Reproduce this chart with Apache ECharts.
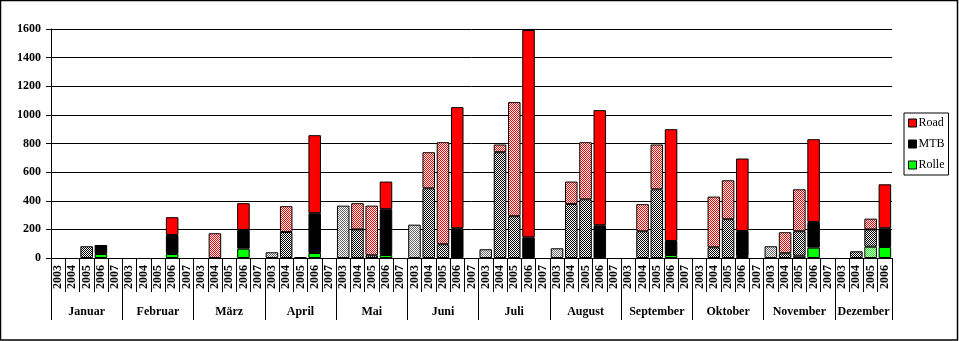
<!DOCTYPE html>
<html>
<head>
<meta charset="utf-8">
<script src="https://cdn.jsdelivr.net/npm/echarts@6/dist/echarts.min.js"></script>
<style>
  html, body { margin: 0; padding: 0; background: #fff; }
  #chart { width: 959px; height: 341px; }
</style>
</head>
<body>
<div id="chart"></div>
<script>
// Monthly training totals per year, stacked Rolle / MTB / Road
const months = ['Januar', 'Februar', 'März', 'April', 'Mai', 'Juni', 'Juli',
                'August', 'September', 'Oktober', 'November', 'Dezember'];
const yearLabels = ['2003', '2004', '2005', '2006', '2007'];
const yearsPerMonth = [5, 5, 5, 5, 5, 5, 5, 5, 5, 5, 5, 4];

const roadValues = [
  0, 0, 0, 0, 0,          // Januar
  0, 0, 0, 124, 0,        // Februar
  0, 173, 0, 187, 0,      // März
  0, 180, 0, 545, 0,      // April
  0, 183, 347, 193, 0,    // Mai
  0, 252, 713, 846, 0,    // Juni
  0, 54, 797, 1448, 0,    // Juli
  0, 156, 399, 804, 0,    // August
  0, 189, 313, 781, 0,    // September
  0, 354, 272, 506, 0,    // Oktober
  0, 147, 293, 578, 0,    // November
  0, 0, 75, 307           // Dezember
];
const mtbValues = [
  0, 0, 82, 63, 0,
  0, 0, 0, 133, 0,
  0, 0, 0, 131, 0,
  40, 182, 5, 278, 0,
  366, 200, 19, 320, 0,
  233, 487, 96, 208, 0,
  61, 739, 292, 145, 0,
  68, 378, 410, 229, 0,
  0, 187, 480, 98, 0,
  0, 75, 271, 175, 0,
  82, 33, 171, 180, 0,
  0, 47, 121, 131
];
const rolleValues = [
  0, 0, 0, 28, 0,
  0, 0, 0, 28, 0,
  0, 0, 0, 65, 0,
  0, 0, 0, 35, 0,
  0, 0, 0, 21, 0,
  0, 0, 0, 0, 0,
  0, 0, 0, 0, 0,
  0, 0, 0, 0, 0,
  0, 0, 0, 21, 0,
  0, 0, 0, 14, 0,
  0, 0, 16, 72, 0,
  0, 0, 79, 77
];

// category list: one slot per (month, year)
const categories = [];
const monthStarts = [];
const monthCenters = [];
let pos = 0;
yearsPerMonth.forEach(function (n) {
  monthStarts.push(pos);
  monthCenters.push(pos + n / 2);
  for (let k = 0; k < n; k++) categories.push(yearLabels[k]);
  pos += n;
});
monthStarts.push(pos);
const totalSlots = pos;

// 1px dither fills for the earlier seasons
function dither(fg, bg) {
  const c = document.createElement('canvas');
  c.width = 2; c.height = 2;
  const g = c.getContext('2d');
  g.fillStyle = bg; g.fillRect(0, 0, 2, 2);
  g.fillStyle = fg; g.fillRect(0, 0, 1, 1); g.fillRect(1, 1, 1, 1);
  return { image: c, repeat: 'repeat' };
}

const palette = {
  Road:  { solid: '#ff0000', dense: dither('#ff0000', '#ffffff'), light: dither('#ff6666', '#ffffff') },
  MTB:   { solid: '#000000', dense: dither('#000000', '#ffffff'), light: dither('#6a6a6a', '#ffffff') },
  Rolle: { solid: '#00ff00', dense: dither('#00ff00', '#ffffff'), light: dither('#66ff66', '#ffffff') }
};

function buildData(values, name) {
  return values.map(function (v, i) {
    if (!v) return '-';
    const year = categories[i];
    let fill = palette[name].solid;
    if (year === '2003') fill = palette[name].light;
    else if (year === '2004' || year === '2005') fill = palette[name].dense;
    return { value: v, itemStyle: { color: fill } };
  });
}

function makeSeries(name, values) {
  return {
    name: name,
    type: 'bar',
    stack: 'total',
    xAxisIndex: 0,
    barCategoryGap: '12%',
    itemStyle: { color: palette[name].solid, borderColor: '#000', borderWidth: 1 },
    emphasis: { disabled: true },
    data: buildData(values, name)
  };
}

const serif = '"Liberation Serif", "Times New Roman", serif';

const chart = echarts.init(document.getElementById('chart'), null, { renderer: 'canvas' });
chart.setOption({
  animation: false,
  backgroundColor: '#ffffff',
  grid: { left: 51, right: 67, top: 29, bottom: 83, containLabel: false },
  legend: {
    orient: 'vertical',
    left: 904,
    top: 113,
    data: ['Road', 'MTB', 'Rolle'],
    icon: 'rect',
    itemWidth: 8,
    itemHeight: 8,
    itemGap: 9,
    padding: [4, 4, 4, 4],
    borderColor: '#000',
    borderWidth: 1,
    borderRadius: 0,
    itemStyle: { borderColor: '#000', borderWidth: 1 },
    textStyle: { fontFamily: serif, fontSize: 12, color: '#000', lineHeight: 12, padding: [0, 0, 0, -3] }
  },
  xAxis: [
    {
      type: 'category',
      data: categories,
      position: 'bottom',
      boundaryGap: true,
      axisLine: { show: true, lineStyle: { color: '#000', width: 1 } },
      axisTick: { show: true, interval: 0, length: 34, lineStyle: { color: '#000', width: 1 } },
      axisLabel: {
        interval: 0, rotate: 90, margin: 7,
        fontFamily: serif, fontSize: 12, fontWeight: 'bold', color: '#000'
      },
      splitLine: { show: false }
    },
    {
      type: 'value',
      min: 0,
      max: totalSlots,
      position: 'bottom',
      axisLine: { show: false },
      axisTick: {
        show: true, length: 62, customValues: monthStarts,
        lineStyle: { color: '#000', width: 1 }
      },
      axisLabel: {
        show: true, margin: 48, customValues: monthCenters,
        fontFamily: serif, fontSize: 12, fontWeight: 'bold', color: '#000',
        formatter: function (v) {
          const idx = monthCenters.findIndex(function (c) { return Math.abs(c - v) < 1e-6; });
          return idx >= 0 ? months[idx] : '';
        }
      },
      splitLine: { show: false }
    }
  ],
  yAxis: {
    type: 'value',
    min: 0,
    max: 1600,
    interval: 200,
    axisLine: { show: true, lineStyle: { color: '#000', width: 1 } },
    axisTick: { show: true, length: 5, lineStyle: { color: '#000', width: 1 } },
    axisLabel: {
      margin: 10, fontFamily: serif, fontSize: 12, fontWeight: 'bold', color: '#000',
      formatter: function (v) { return String(v); }
    },
    splitLine: { show: true, lineStyle: { color: '#000', width: 1 } }
  },
  series: [
    makeSeries('Rolle', rolleValues),
    makeSeries('MTB', mtbValues),
    makeSeries('Road', roadValues)
  ],
  graphic: [
    {
      type: 'rect',
      silent: true,
      shape: { x: 0.5, y: 0.5, width: 957, height: 339.5 },
      style: { fill: null, stroke: '#000', lineWidth: 1.5 }
    }
  ]
});
</script>
</body>
</html>
